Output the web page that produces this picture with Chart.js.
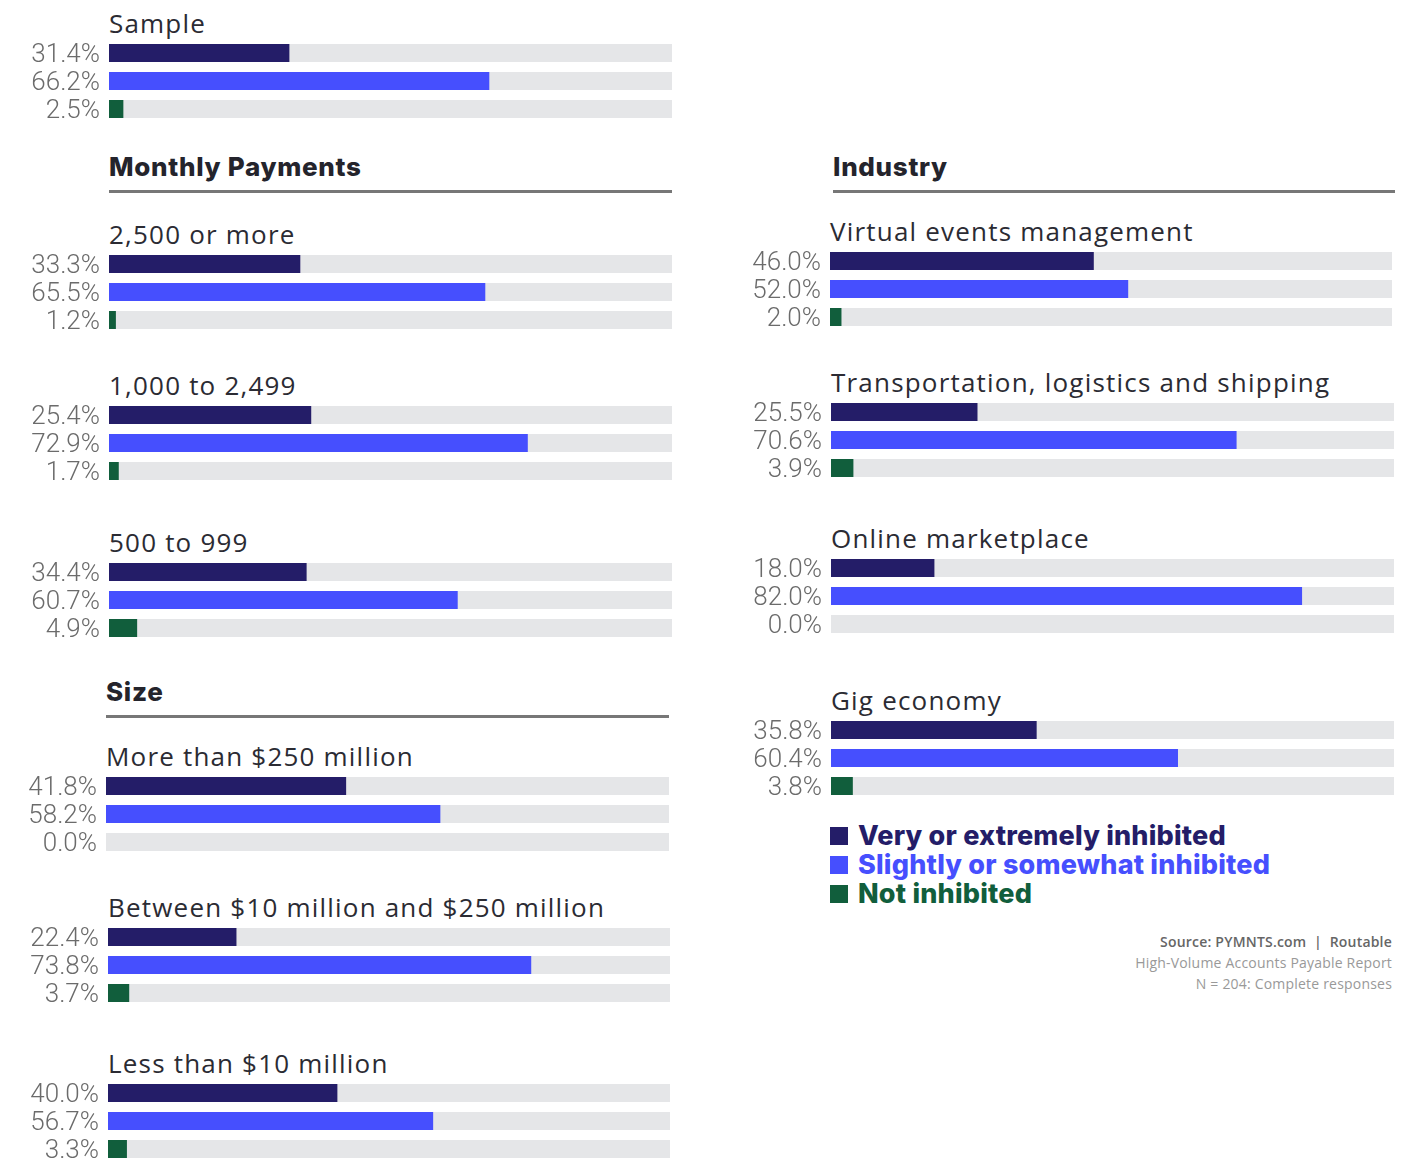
<!DOCTYPE html>
<html>
<head>
<meta charset="utf-8">
<script src="https://cdn.jsdelivr.net/npm/chart.js@4.4.0/dist/chart.umd.min.js"></script>
<style>
  body { margin: 0; background: #fff; width: 1405px; height: 1159px; position: relative; overflow: hidden; font-family: "Open Sans", sans-serif; }
  .title { position: absolute; font-size: 26px; color: #2b2b33; white-space: nowrap; letter-spacing: 1.2px; line-height: 1; }
  .section { position: absolute; font-family: Inter, sans-serif; font-weight: 800; font-size: 26px; color: #24242c; line-height: 1; letter-spacing: 0.7px; }
  .rule { position: absolute; height: 3px; background: #777; }
  .panel { position: absolute; }
  .legend { position: absolute; left: 830px; top: 821px; font-family: Inter, sans-serif; font-weight: 800; font-size: 27px; line-height: 29px; letter-spacing: 0.2px; }
  .legend div { display: flex; align-items: center; white-space: nowrap; }
  .legend span.sw { width: 18px; height: 18px; margin-right: 10px; display: inline-block; }
  .source { position: absolute; right: 13px; top: 931px; text-align: right; font-family: "Open Sans", sans-serif; font-size: 14px; line-height: 21px; color: #999; letter-spacing: 0.2px; }
  .source b { color: #666; font-weight: 600; }
</style>
</head>
<body>
<script>
// chart data
const groups = ["Sample", "2,500 or more", "1,000 to 2,499", "500 to 999",
  "More than $250 million", "Between $10 million and $250 million", "Less than $10 million",
  "Virtual events management", "Transportation, logistics and shipping", "Online marketplace", "Gig economy"];
// bar lengths as drawn in the picture
const veryInhibited     = [31.4, 33.3, 35.2, 34.4, 41.8, 22.4, 40.0, 46.0, 25.5, 18.0, 35.8];
const slightlyInhibited = [66.2, 65.5, 72.9, 60.7, 58.2, 73.8, 56.7, 52.0, 70.6, 82.0, 60.4];
const notInhibited      = [2.5, 1.2, 1.7, 4.9, 0.0, 3.7, 3.3, 2.0, 3.9, 0.0, 3.8];
// printed value labels
const veryLabels     = ["31.4%", "33.3%", "25.4%", "34.4%", "41.8%", "22.4%", "40.0%", "46.0%", "25.5%", "18.0%", "35.8%"];
const slightlyLabels = ["66.2%", "65.5%", "72.9%", "60.7%", "58.2%", "73.8%", "56.7%", "52.0%", "70.6%", "82.0%", "60.4%"];
const notLabels      = ["2.5%", "1.2%", "1.7%", "4.9%", "0.0%", "3.7%", "3.3%", "2.0%", "3.9%", "0.0%", "3.8%"];
const seriesNames = ["Very or extremely inhibited", "Slightly or somewhat inhibited", "Not inhibited"];
const sections = ["Monthly Payments", "Size", "Industry"];

const colors = ["#241d68", "#464ffe", "#115e3c"];
const trackColor = "#e5e6e8";
const scaleMax = 98;

// layout: x of track, y of first bar centre, track width
const panelPos = [
  [109, 53, 563], [109, 264, 563], [109, 415, 563], [109, 572, 563],
  [106, 786, 563], [108, 937, 562], [108, 1093, 562],
  [830, 261, 562], [831, 412, 563], [831, 568, 563], [831, 730, 563]
];
const sectionPos = [[109, 191, 563], [106, 716, 563], [833, 191, 562]];

sections.forEach((s, i) => {
  const [x, y, w] = sectionPos[i];
  const h = document.createElement("div");
  h.className = "section";
  h.textContent = s;
  h.style.left = x + "px";
  h.style.top = (y - 37) + "px";
  document.body.appendChild(h);
  const r = document.createElement("div");
  r.className = "rule";
  r.style.left = x + "px";
  r.style.top = (y - 1) + "px";
  r.style.width = w + "px";
  document.body.appendChild(r);
});

const labelW = 110;
groups.forEach((g, i) => {
  const [x, y, w] = panelPos[i];
  const t = document.createElement("div");
  t.className = "title";
  t.textContent = g;
  t.style.left = x + "px";
  t.style.top = (y - 43) + "px";
  document.body.appendChild(t);

  const div = document.createElement("div");
  div.className = "panel";
  div.style.left = (x - labelW) + "px";
  div.style.top = (y - 14) + "px";
  const cv = document.createElement("canvas");
  cv.width = w + labelW;
  cv.height = 84;
  div.appendChild(cv);
  document.body.appendChild(div);

  const vals = [veryInhibited[i], slightlyInhibited[i], notInhibited[i]];
  new Chart(cv, {
    type: "bar",
    data: {
      labels: [veryLabels[i], slightlyLabels[i], notLabels[i]],
      datasets: [
        { data: vals, backgroundColor: colors, barThickness: 18, grouped: false, order: 1, inflateAmount: 0 },
        { data: vals.map(() => scaleMax), backgroundColor: trackColor, barThickness: 18, grouped: false, order: 2, inflateAmount: 0 }
      ]
    },
    options: {
      indexAxis: "y",
      responsive: false,
      animation: false,
      layout: { padding: 0 },
      plugins: { legend: { display: false }, tooltip: { enabled: false }, title: { display: false } },
      scales: {
        x: { display: false, min: 0, max: scaleMax },
        y: {
          grid: { display: false, drawTicks: false },
          border: { display: false },
          afterFit: s => { s.width = labelW; s.paddingTop = 0; s.paddingBottom = 0; },
          ticks: { padding: 9, labelOffset: 2, autoSkip: false, color: "#6b6b6b", font: { family: "Roboto", size: 26, weight: 300, lineHeight: 1 } }
        }
      }
    }
  });
});

const lg = document.createElement("div");
lg.className = "legend";
seriesNames.forEach((n, i) => {
  const row = document.createElement("div");
  row.innerHTML = '<span class="sw" style="background:' + colors[i] + '"></span>';
  const sp = document.createElement("span");
  sp.textContent = n;
  sp.style.color = colors[i];
  row.appendChild(sp);
  lg.appendChild(row);
});
document.body.appendChild(lg);

const src = document.createElement("div");
src.className = "source";
src.innerHTML = "<b>Source: PYMNTS.com &nbsp;|&nbsp; Routable</b><br>High-Volume Accounts Payable Report<br>N = 204: Complete responses";
document.body.appendChild(src);
</script>
</body>
</html>
